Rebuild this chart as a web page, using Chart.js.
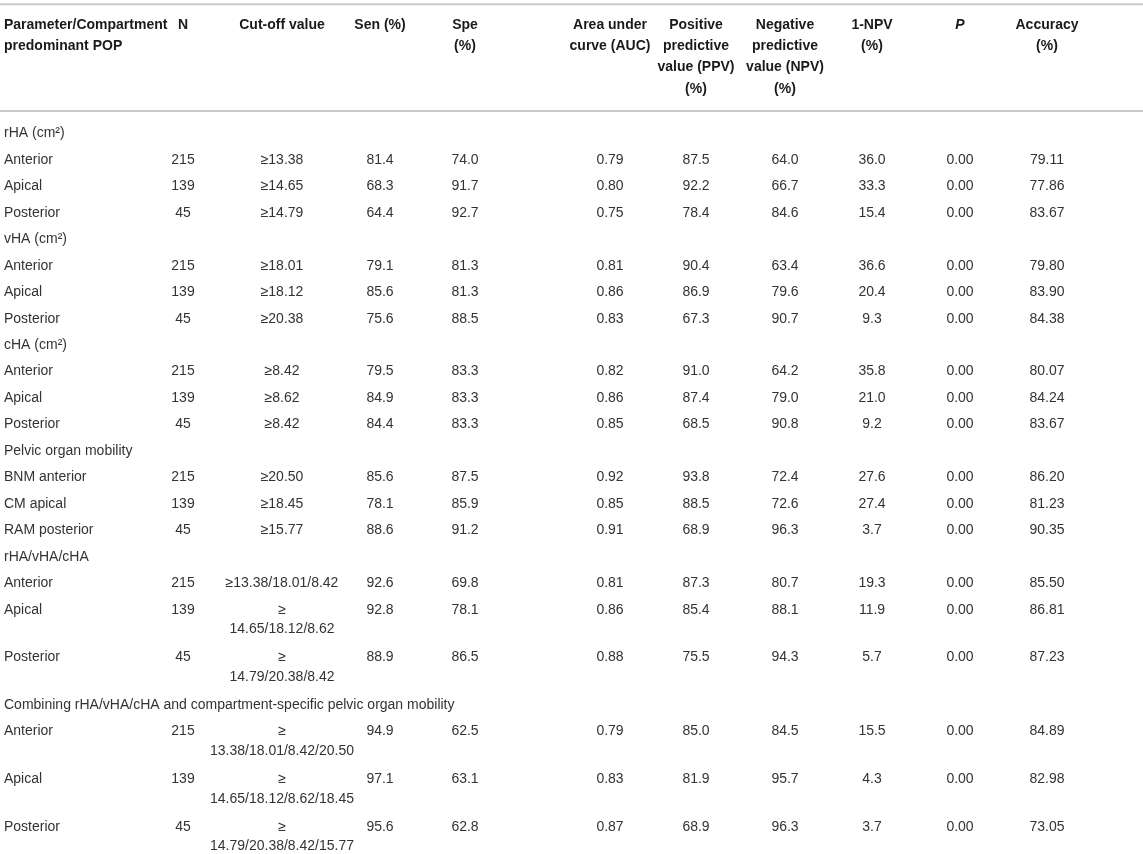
<!DOCTYPE html>
<html>
<head>
<meta charset="utf-8">
<script src="https://cdn.jsdelivr.net/npm/chart.js@4.4.1/dist/chart.umd.min.js"></script>
<style>
  html, body { margin: 0; padding: 0; background: #fff; }
  #wrap { width: 1143px; height: 854px; }
</style>
</head>
<body>
<div id="wrap"><canvas id="tbl" width="1143" height="854"></canvas></div>
<script>
// table data
const columnHeaders = [
    'Parameter/Compartment\npredominant POP', 'N', 'Cut-off value', 'Sen (%)', 'Spe\n(%)',
    'Area under\ncurve (AUC)', 'Positive\npredictive\nvalue (PPV)\n(%)',
    'Negative\npredictive\nvalue (NPV)\n(%)', '1-NPV\n(%)', 'P', 'Accuracy\n(%)'
];
const sectionTitles = [
    'rHA (cm²)', 'vHA (cm²)', 'cHA (cm²)', 'Pelvic organ mobility', 'rHA/vHA/cHA',
    'Combining rHA/vHA/cHA and compartment-specific pelvic organ mobility'
];
const compartments = [
    ['Anterior', 'Apical', 'Posterior'],
    ['Anterior', 'Apical', 'Posterior'],
    ['Anterior', 'Apical', 'Posterior'],
    ['BNM anterior', 'CM apical', 'RAM posterior'],
    ['Anterior', 'Apical', 'Posterior'],
    ['Anterior', 'Apical', 'Posterior']
];
const nValues = [215, 139, 45];
const cutOffs = [
    '≥13.38', '≥14.65', '≥14.79',
    '≥18.01', '≥18.12', '≥20.38',
    '≥8.42', '≥8.62', '≥8.42',
    '≥20.50', '≥18.45', '≥15.77',
    '≥13.38/18.01/8.42', '≥\n14.65/18.12/8.62', '≥\n14.79/20.38/8.42',
    '≥\n13.38/18.01/8.42/20.50', '≥\n14.65/18.12/8.62/18.45', '≥\n14.79/20.38/8.42/15.77'
];
const sensitivity = [81.4, 68.3, 64.4, 79.1, 85.6, 75.6, 79.5, 84.9, 84.4, 85.6, 78.1, 88.6, 92.6, 92.8, 88.9, 94.9, 97.1, 95.6];
const specificity = [74.0, 91.7, 92.7, 81.3, 81.3, 88.5, 83.3, 83.3, 83.3, 87.5, 85.9, 91.2, 69.8, 78.1, 86.5, 62.5, 63.1, 62.8];
const aucValues = [0.79, 0.80, 0.75, 0.81, 0.86, 0.83, 0.82, 0.86, 0.85, 0.92, 0.85, 0.91, 0.81, 0.86, 0.88, 0.79, 0.83, 0.87];
const ppvValues = [87.5, 92.2, 78.4, 90.4, 86.9, 67.3, 91.0, 87.4, 68.5, 93.8, 88.5, 68.9, 87.3, 85.4, 75.5, 85.0, 81.9, 68.9];
const npvValues = [64.0, 66.7, 84.6, 63.4, 79.6, 90.7, 64.2, 79.0, 90.8, 72.4, 72.6, 96.3, 80.7, 88.1, 94.3, 84.5, 95.7, 96.3];
const oneMinusNpv = [36.0, 33.3, 15.4, 36.6, 20.4, 9.3, 35.8, 21.0, 9.2, 27.6, 27.4, 3.7, 19.3, 11.9, 5.7, 15.5, 4.3, 3.7];
const pValues = [0, 0, 0, 0, 0, 0, 0, 0, 0, 0, 0, 0, 0, 0, 0, 0, 0, 0];
const accuracy = [79.11, 77.86, 83.67, 79.80, 83.90, 84.38, 80.07, 84.24, 83.67, 86.20, 81.23, 90.35, 85.50, 86.81, 87.23, 84.89, 82.98, 73.05];

// layout (x in table units across the page width, y in row units)
const colX = [4, 183, 282, 380, 465, 610, 696, 785, 872, 960, 1047];
const WRAP_EXTRA = 0.8;
const LINE_STEP = 0.74;
const HEAD_TOP = -4.1;
const HEAD_STEP = 0.805;
const RULES = [-4.875, -0.845];
const FONT = '"Liberation Sans", Arial, Helvetica, sans-serif';

// build rows from the arrays
const rows = [];
let k = 0;
sectionTitles.forEach((title, s) => {
    rows.push({ section: true, cells: [title] });
    compartments[s].forEach((name, r) => {
        rows.push({
            section: false,
            cells: [
                name, String(nValues[r]), cutOffs[k],
                sensitivity[k].toFixed(1), specificity[k].toFixed(1), aucValues[k].toFixed(2),
                ppvValues[k].toFixed(1), npvValues[k].toFixed(1), oneMinusNpv[k].toFixed(1),
                pValues[k].toFixed(2), accuracy[k].toFixed(2)
            ]
        });
        k++;
    });
});

let pos = 0;
rows.forEach(row => {
    row.y = pos;
    const lines = Math.max(...row.cells.map(c => c.split('\n').length));
    pos += 1 + (lines - 1) * WRAP_EXTRA;
});

const datasets = columnHeaders.map((h, c) => ({
    label: h,
    data: rows.map(row => ({ x: colX[c], y: row.y })),
    cellText: rows.map(row => row.cells[c] || ''),
    pointRadius: 0,
    pointHoverRadius: 0,
    showLine: false
}));

const tablePlugin = {
    id: 'tableText',
    afterDatasetsDraw(chart) {
        const { ctx, chartArea, scales: { x, y } } = chart;
        ctx.save();

        // rules
        ctx.strokeStyle = '#c8c8c8';
        ctx.lineWidth = 2;
        RULES.forEach(r => {
            const py = y.getPixelForValue(r);
            ctx.beginPath();
            ctx.moveTo(chartArea.left, py);
            ctx.lineTo(chartArea.right, py);
            ctx.stroke();
        });

        ctx.textBaseline = 'middle';

        // header
        ctx.fillStyle = '#1a1a1a';
        columnHeaders.forEach((h, c) => {
            ctx.font = (h === 'P' ? 'italic bold 14px ' : 'bold 14px ') + FONT;
            ctx.textAlign = c === 0 ? 'left' : 'center';
            const px = x.getPixelForValue(colX[c]);
            h.split('\n').forEach((line, i) => {
                ctx.fillText(line, px, y.getPixelForValue(HEAD_TOP + i * HEAD_STEP));
            });
        });

        // body cells
        ctx.font = '14px ' + FONT;
        ctx.fillStyle = '#333333';
        chart.data.datasets.forEach((ds, c) => {
            ctx.textAlign = c === 0 ? 'left' : 'center';
            chart.getDatasetMeta(c).data.forEach((pt, i) => {
                const text = ds.cellText[i];
                if (!text) return;
                const lines = text.split('\n');
                lines.forEach((line, j) => {
                    const py = y.getPixelForValue(ds.data[i].y + j * LINE_STEP);
                    ctx.fillText(line, pt.x, py);
                });
            });
        });
        ctx.restore();
    }
};

new Chart(document.getElementById('tbl').getContext('2d'), {
    type: 'scatter',
    data: { datasets: datasets },
    options: {
        responsive: false,
        animation: false,
        layout: { padding: 0 },
        plugins: { legend: { display: false }, tooltip: { enabled: false } },
        scales: {
            x: { type: 'linear', min: 0, max: 1143, display: false },
            y: { type: 'linear', reverse: true, min: -5.04, max: -5.04 + 854 / 26.47, display: false }
        }
    },
    plugins: [tablePlugin]
});
</script>
</body>
</html>
